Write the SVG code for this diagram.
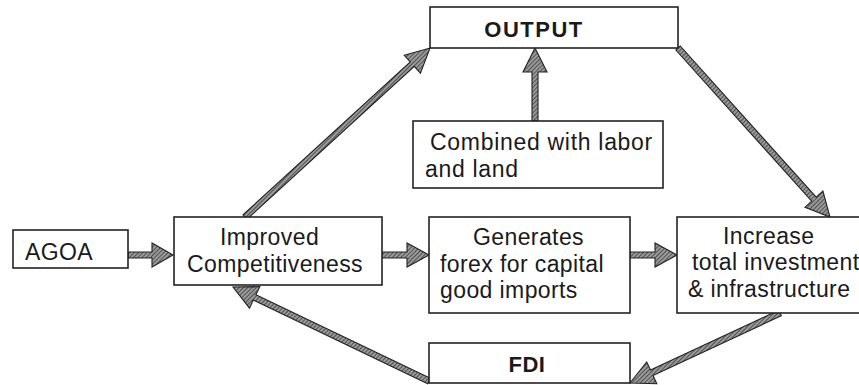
<svg xmlns="http://www.w3.org/2000/svg" width="859" height="385" viewBox="0 0 859 385">
  <defs>
    <pattern id="hatch" width="3" height="3" patternUnits="userSpaceOnUse" patternTransform="rotate(45)">
      <rect width="3" height="3" fill="#9a9a9a"/>
      <line x1="0" y1="0" x2="0" y2="3" stroke="#383838" stroke-width="1.5"/>
    </pattern>
  </defs>
  <style>
    .box { fill: #ffffff; stroke: #222222; stroke-width: 1.6; }
    .t { font-family: "Liberation Sans", Arial, Helvetica, sans-serif; font-size: 23px; fill: #1a1a1a; letter-spacing: 0.4px; }
    .b { font-family: "Liberation Sans", Arial, Helvetica, sans-serif; font-size: 22px; font-weight: bold; fill: #1a1a1a; letter-spacing: 1.5px; }
    .arrow { fill: url(#hatch); stroke: #222222; stroke-width: 1.1; stroke-linejoin: miter; }
  </style>
  <rect width="859" height="385" fill="#ffffff"/>

  <g id="connectors">
    <polygon class="arrow" points="128,252 152,252 152,243 173,255 152,267 152,258 128,258"/>
    <polygon class="arrow" points="382,252 407,252 407,243 429,255 407,267 407,258 382,258"/>
    <polygon class="arrow" points="630,252 655,252 655,243 677,255 655,267 655,258 630,258"/>
    <polygon class="arrow" points="532,121 532,72 523,72 535,48 547,72 538,72 538,121"/>
    <polygon class="arrow" points="247.0,219.2 414.3,66.4 420.4,73.1 430,48 404.2,55.3 410.3,62.0 243.0,214.8"/>
    <polygon class="arrow" points="675.8,50.0 811.7,201.2 805.0,207.2 830,217 822.9,191.1 816.2,197.2 680.2,46.0"/>
    <polygon class="arrow" points="778.7,310.3 650.5,370.1 646.7,362.0 630,383 656.8,383.7 653.0,375.6 781.3,315.7"/>
    <polygon class="arrow" points="430.3,378.3 255.9,294.7 259.8,286.6 233,287 249.5,308.2 253.3,300.1 427.7,383.7"/>
  </g>

  <g id="node-output">
    <rect class="box" x="430" y="7" width="248" height="41"/>
    <text class="b" x="534" y="37" text-anchor="middle">OUTPUT</text>
  </g>

  <g id="node-combined">
    <rect class="box" x="413" y="121" width="250" height="67"/>
    <text class="t" x="430" y="150" style="letter-spacing:0.7px">Combined with labor</text>
    <text class="t" x="425" y="177" style="letter-spacing:0.7px">and land</text>
  </g>

  <g id="node-agoa">
    <rect class="box" x="13" y="230" width="115" height="38"/>
    <text class="t" x="25" y="260">AGOA</text>
  </g>

  <g id="node-improved">
    <rect class="box" x="174" y="217" width="208" height="68"/>
    <text class="t" x="220" y="245">Improved</text>
    <text class="t" x="187" y="272">Competitiveness</text>
  </g>

  <g id="node-generates">
    <rect class="box" x="429" y="217" width="201" height="96"/>
    <text class="t" x="473" y="245">Generates</text>
    <text class="t" x="440" y="272">forex for capital</text>
    <text class="t" x="440" y="298">good imports</text>
  </g>

  <g id="node-increase">
    <rect class="box" x="677" y="217" width="186" height="96"/>
    <text class="t" x="723" y="244">Increase</text>
    <text class="t" x="692" y="270">total investment</text>
    <text class="t" x="688" y="297">&amp; infrastructure</text>
  </g>

  <g id="node-fdi">
    <rect class="box" x="429" y="343" width="201" height="40"/>
    <text class="b" x="527" y="372" text-anchor="middle" style="letter-spacing:0.5px">FDI</text>
  </g>
</svg>
